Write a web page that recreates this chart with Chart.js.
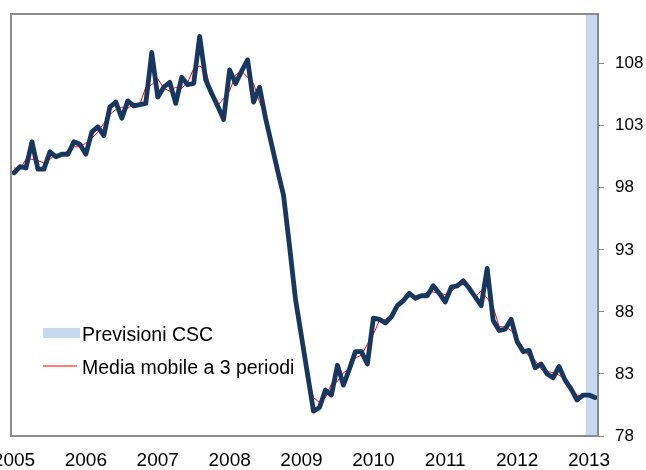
<!DOCTYPE html>
<html>
<head>
<meta charset="utf-8">
<script src="https://cdn.jsdelivr.net/npm/chart.js@4.4.1/dist/chart.umd.min.js"></script>
<style>
  html, body { margin: 0; padding: 0; background: #fff; }
  #wrap { width: 646px; height: 470px; }
</style>
</head>
<body>
<div id="wrap"><canvas id="chart" width="646" height="470"></canvas></div>
<script>
// Indice mensile gen 2005 - feb 2013, con media mobile e area previsioni CSC
const years = ['2005', '2006', '2007', '2008', '2009', '2010', '2011', '2012', '2013'];
const monthNames = ['gen', 'feb', 'mar', 'apr', 'mag', 'giu', 'lug', 'ago', 'set', 'ott', 'nov', 'dic'];

const production = [
  99.2, 99.7, 99.6, 101.7, 99.5, 99.5, 100.9, 100.5, 100.7, 100.7, 101.7, 101.5,
  100.7, 102.5, 102.9, 102.2, 104.5, 104.9, 103.6, 105.0, 104.6, 104.7, 104.8, 108.9,
  105.3, 106.1, 106.5, 104.8, 106.9, 106.3, 106.4, 110.2, 106.7, 105.6, 104.6, 103.5,
  107.5, 106.4, 107.4, 108.3, 104.9, 106.1, 103.6, 101.5, 99.4, 97.4, 93.3, 89.0,
  86.0, 83.0, 80.0, 80.3, 81.7, 81.3, 83.7, 82.1, 83.4, 84.8, 84.8, 83.8,
  87.5, 87.4, 87.1, 87.6, 88.5, 88.9, 89.5, 89.1, 89.3, 89.3, 90.1, 89.5,
  88.8, 90.0, 90.1, 90.5, 89.9, 89.2, 88.5, 91.5, 87.3, 86.5, 86.6, 87.4,
  85.6, 84.8, 84.9, 83.5, 83.8, 83.0, 82.7, 83.6, 82.5, 81.8, 80.9, 81.3,
  81.3, 81.1
];

const movingAvg = [
  99.6, 99.5, 100.3, 100.3, 100.2, 100.0, 100.3, 100.7, 100.6, 101.0, 101.3, 101.3,
  101.6, 102.0, 102.5, 103.2, 103.9, 104.3, 104.5, 104.4, 104.8, 104.7, 106.1, 106.3,
  106.8, 106.0, 105.8, 106.1, 106.0, 106.5, 107.6, 107.8, 107.5, 105.6, 104.6, 105.2,
  105.8, 107.1, 107.4, 106.9, 106.4, 104.9, 103.7, 101.5, 99.4, 96.7, 93.2, 89.4,
  86.0, 83.0, 81.1, 80.7, 81.1, 82.2, 82.4, 83.1, 83.4, 84.3, 84.5, 85.4,
  86.2, 87.3, 87.4, 87.7, 88.3, 89.0, 89.2, 89.3, 89.2, 89.6, 89.6, 89.5,
  89.4, 89.6, 90.2, 90.2, 89.9, 89.2, 89.7, 89.1, 88.4, 86.8, 86.8, 86.5,
  85.9, 85.1, 84.4, 84.1, 83.4, 83.2, 83.1, 82.9, 82.6, 81.7, 81.3, 81.2,
  81.2, null
];

const yTicks = [78, 83, 88, 93, 98, 103, 108];
const Y_MIN = 78;
const Y_MAX = 112;
const forecastMonths = 2; // ultimi mesi coperti dalle previsioni CSC

const labels = production.map((v, i) => monthNames[i % 12] + ' ' + years[Math.floor(i / 12)]);
const forecast = production.map((v, i) => i >= production.length - forecastMonths ? Y_MAX : null);

const FONT = "'Liberation Sans', Arial, sans-serif";
Chart.defaults.font.family = FONT;
Chart.defaults.color = '#000';

// cornice grigia dell'area del grafico
const framePlugin = {
  id: 'frame',
  afterDatasetsDraw(chart) {
    const a = chart.chartArea, ctx = chart.ctx;
    ctx.save();
    ctx.strokeStyle = '#8c8c8c';
    ctx.lineWidth = 2;
    ctx.strokeRect(a.left, a.top, a.right - a.left, a.bottom - a.top);
    ctx.restore();
  }
};

// legenda dentro l'area, in basso a sinistra
const insideLegend = {
  id: 'insideLegend',
  afterDraw(chart) {
    const a = chart.chartArea, ctx = chart.ctx;
    const band = chart.data.datasets[2];
    const avg = chart.data.datasets[1];
    const x0 = a.left + 32;
    ctx.save();
    ctx.fillStyle = band.backgroundColor;
    ctx.fillRect(x0, a.top + 314, 37, 10);
    ctx.strokeStyle = avg.borderColor;
    ctx.lineWidth = 1;
    ctx.beginPath();
    ctx.moveTo(x0, a.top + 352);
    ctx.lineTo(x0 + 34, a.top + 352);
    ctx.stroke();
    ctx.fillStyle = '#000';
    ctx.font = '19.5px ' + FONT;
    ctx.textBaseline = 'alphabetic';
    ctx.fillText(band.label, x0 + 39, a.top + 327);
    ctx.fillText(avg.label, x0 + 39, a.top + 360);
    ctx.restore();
  }
};

new Chart(document.getElementById('chart'), {
  type: 'bar',
  data: {
    labels: labels,
    datasets: [
      {
        type: 'line',
        label: 'Indice',
        data: production,
        borderColor: '#17375e',
        borderWidth: 4.8,
        borderJoinStyle: 'round',
        borderCapStyle: 'round',
        pointRadius: 0,
        tension: 0,
        order: 1
      },
      {
        type: 'line',
        label: 'Media mobile a 3 periodi',
        data: movingAvg,
        borderColor: '#ff0000',
        borderWidth: 1,
        pointRadius: 0,
        tension: 0,
        order: 2
      },
      {
        type: 'bar',
        label: 'Previsioni CSC',
        data: forecast,
        backgroundColor: '#c6d9f1',
        barPercentage: 1,
        categoryPercentage: 1,
        grouped: false,
        order: 3
      }
    ]
  },
  options: {
    responsive: false,
    animation: false,
    layout: { padding: { left: 11, top: 14, right: 0, bottom: 0 } },
    plugins: {
      legend: { display: false },
      tooltip: { enabled: false }
    },
    scales: {
      x: {
        offset: true,
        grid: { display: false, drawTicks: false },
        border: { display: false },
        ticks: {
          autoSkip: false,
          maxRotation: 0,
          padding: 13,
          font: { size: 19 },
          callback: (v, i) => i % 12 === 0 ? years[i / 12] : ''
        },
        afterFit: s => { s.height = 34; s.paddingLeft = 0; s.paddingRight = 0; }
      },
      y: {
        position: 'right',
        min: Y_MIN,
        max: Y_MAX,
        grid: { drawOnChartArea: false, drawTicks: true, tickLength: 6, color: '#8c8c8c' },
        border: { display: false },
        ticks: { padding: 11, font: { size: 17 } },
        afterBuildTicks: s => { s.ticks = yTicks.map(v => ({ value: v })); },
        afterFit: s => { s.width = 48; s.paddingTop = 0; s.paddingBottom = 0; }
      }
    }
  },
  plugins: [framePlugin, insideLegend]
});
</script>
</body>
</html>
